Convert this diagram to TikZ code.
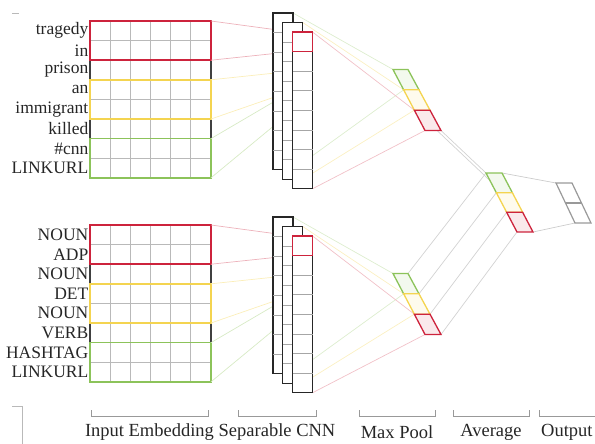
\documentclass[tikz,border=0pt]{standalone}
\usepackage{fontspec}
\setmainfont{Liberation Serif}
\usepackage{tikz}
\usetikzlibrary{calc}

\definecolor{winred}{RGB}{205,35,60}
\definecolor{winyellow}{RGB}{244,212,80}
\definecolor{wingreen}{RGB}{140,195,90}

\tikzset{
  gridline/.style={gray!55, line width=0.8pt},
  embframe/.style={black!75, line width=1.2pt},
  winbox/.style={line width=1.5pt},
  colbox/.style={black!85, line width=1.3pt, fill=white},
  link/.style={line width=0.7pt},
  wordlabel/.style={anchor=east, inner sep=0pt, text=black!85, font=\fontsize{17.5}{18}\selectfont},
  partlabel/.style={inner sep=0pt, text=black!85, font=\fontsize{18.5}{19}\selectfont},
  brace/.style={gray!80, line width=1pt}
}

\begin{document}
\begin{tikzpicture}[x=1pt, y=-1pt]
\useasboundingbox (0,0) rectangle (595,444);

% crop marks
\draw[gray!55, line width=0.6pt] (12,13) -- (19,13);
\draw[gray!55, line width=0.6pt] (12,406) -- (22,406) -- (22,444);

\foreach \h/\dy in {t/0, b/204} {
\begin{scope}[shift={(0,\dy)}]
  % embedding grid
  \foreach \k in {1,...,7}
    \draw[gridline] (90,{21+19.6*\k}) -- (211,{21+19.6*\k});
  \foreach \k in {1,...,5}
    \draw[gridline] ({90+20.17*\k},21) -- ({90+20.17*\k},177.8);
  \draw[embframe] (90,21) rectangle (211,177.8);
  \draw[winbox, winred] (90,21) rectangle (211,60.2);
  \draw[winbox, winyellow] (90,79.8) rectangle (211,119);
  \draw[winbox, wingreen] (90,138.6) rectangle (211,177.8);
  \coordinate (\h-red-ne) at (211,21);
  \coordinate (\h-red-se) at (211,60.2);
  \coordinate (\h-yel-ne) at (211,79.8);
  \coordinate (\h-yel-se) at (211,119);
  \coordinate (\h-grn-ne) at (211,138.6);
  \coordinate (\h-grn-se) at (211,177.8);

  % separable cnn columns
  \foreach \c/\x/\y in {1/273/13, 2/282.75/22.5, 3/292.5/32} {
    \coordinate (\h-cnn\c-nw) at (\x,\y);
    \coordinate (\h-cnn\c-ne) at ({\x+20},\y);
    \coordinate (\h-cnn\c-se) at ({\x+20},{\y+156.8});
  }
  \foreach \k in {0,...,8}
    \coordinate (\h-cnn3-w\k) at (292.5,{32+19.6*\k});

  % max pool block
  \coordinate (\h-pool-nw) at (393,69.5);
  \coordinate (\h-pool-ne) at (408,69.5);
  \coordinate (\h-pool-sw) at (425,130.5);
  \coordinate (\h-pool-se) at (441,130.5);

  % links from windows to cnn
  \draw[link, winred!35] (\h-red-ne) -- (\h-cnn3-w0);
  \draw[link, winred!35] (\h-red-se) -- (\h-cnn3-w1);
  \draw[link, winyellow!40] (\h-yel-ne) -- (\h-cnn3-w2);
  \draw[link, winyellow!40] (\h-yel-se) -- (\h-cnn3-w3);
  \draw[link, wingreen!35] (\h-grn-ne) -- (\h-cnn3-w3);
  \draw[link, wingreen!35] (\h-grn-se) -- (\h-cnn3-w4);

  % links from cnn to max pool
  \draw[link, wingreen!30] (\h-cnn1-ne) -- (\h-pool-nw);
  \draw[link, wingreen!30] (\h-cnn1-se) -- ($(\h-pool-nw)!1/3!(\h-pool-sw)$);
  \draw[link, winyellow!35] (\h-cnn2-ne) -- ($(\h-pool-nw)!1/3!(\h-pool-sw)$);
  \draw[link, winyellow!35] (\h-cnn2-se) -- ($(\h-pool-nw)!2/3!(\h-pool-sw)$);
  \draw[link, winred!28] (\h-cnn3-ne) -- ($(\h-pool-nw)!2/3!(\h-pool-sw)$);
  \draw[link, winred!28] (\h-cnn3-se) -- (\h-pool-sw);

  \foreach \c/\x/\y in {1/273/13, 2/282.75/22.5, 3/292.5/32} {
    \draw[colbox] (\x,\y) rectangle ({\x+20},{\y+156.8});
    \foreach \k in {1,...,7}
      \draw[gray!70, line width=0.8pt] (\x,{\y+19.6*\k}) -- ({\x+20},{\y+19.6*\k});
  }
  \draw[winred, line width=1.4pt] (292.5,32) rectangle (312.5,51.6);
\end{scope}
}

% average and output
\coordinate (avg-nw) at (486,173);
\coordinate (avg-ne) at (502,173);
\coordinate (avg-sw) at (517,232);
\coordinate (avg-se) at (533,232);
\coordinate (out-nw) at (556,183);
\coordinate (out-ne) at (572,183);
\coordinate (out-sw) at (575,223);
\coordinate (out-se) at (591,223);

\draw[link, gray!35] (t-pool-se) -- (avg-nw);
\draw[link, gray!35] ($(t-pool-sw)!0.75!(t-pool-se)$) -- ($(avg-nw)!0.13!(avg-sw)$);
\foreach \f in {0,1,2,3}
  \draw[link, gray!35] ($(b-pool-ne)!\f/3!(b-pool-se)$) -- ($(avg-nw)!\f/3!(avg-sw)$);
\draw[link, gray!40] (avg-ne) -- (out-nw);
\draw[link, gray!40] (avg-se) -- (out-sw);

\foreach \b in {t-pool, b-pool, avg}
  \foreach \f/\col in {0/wingreen, 1/winyellow, 2/winred}
    \draw[\col, line width=1.3pt, fill=\col!10]
      ($(\b-nw)!\f/3!(\b-sw)$) -- ($(\b-ne)!\f/3!(\b-se)$)
      -- ($(\b-ne)!\f/3+1/3!(\b-se)$) -- ($(\b-nw)!\f/3+1/3!(\b-sw)$) -- cycle;
\draw[gray!80, line width=1.2pt] (out-nw) -- (out-ne) -- (out-se) -- (out-sw) -- cycle;
\draw[gray!80, line width=1.2pt] ($(out-nw)!0.5!(out-sw)$) -- ($(out-ne)!0.5!(out-se)$);

% word labels
\foreach \w [count=\i] in {tragedy,in,prison,an,immigrant,killed,\#cnn,LINKURL}
  \node[wordlabel] (t-w\i) at (88.5,{21+19.6*(\i-0.5)}) {\w};
\foreach \w [count=\i] in {NOUN,ADP,NOUN,DET,NOUN,VERB,HASHTAG,LINKURL}
  \node[wordlabel] (b-w\i) at (88.5,{225+19.6*(\i-0.5)}) {\w};

% parts
\foreach \a/\b/\n/\txt in {91/208/emb/Input Embedding, 238/316/cnn/Separable CNN,
    359/435/pool/Max Pool, 453/529/avg/Average} {
  \draw[brace] (\a,410) -- (\a,416) -- (\b,416) -- (\b,410);
  \node[partlabel] (lbl-\n) at ({(\a+\b)/2},432) {\txt};
}
\draw[brace] (539,410) -- (539,416) -- (595,416);
\node[partlabel, anchor=west] (lbl-out) at (541,432) {Output};
\end{tikzpicture}
\end{document}
